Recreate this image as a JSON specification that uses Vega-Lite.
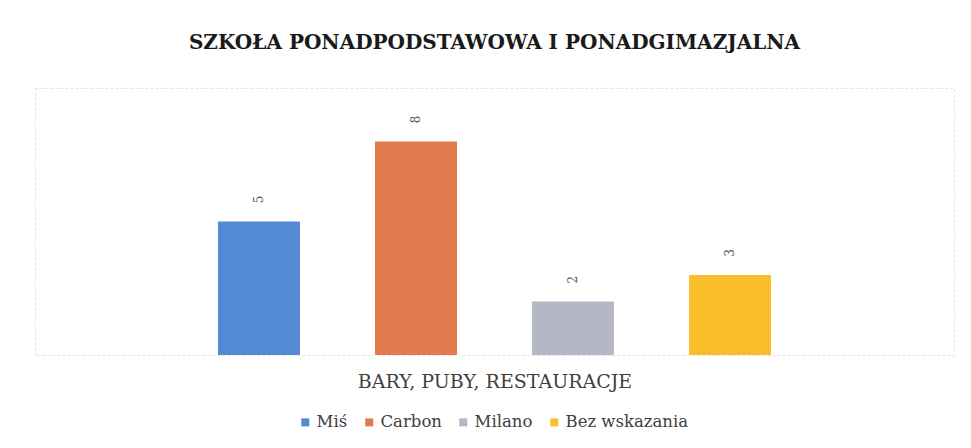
{
  "$schema": "https://vega.github.io/schema/vega-lite/v6.json",
  "width": 919,
  "height": 267,
  "autosize": {"type": "none"},
  "padding": {"left": 35, "top": 88, "right": 17, "bottom": 93},
  "background": "white",
  "title": {
    "text": "SZKOŁA PONADPODSTAWOWA I PONADGIMAZJALNA",
    "font": "DejaVu Serif",
    "fontSize": 20,
    "fontWeight": "bold",
    "color": "#1a1a1a",
    "anchor": "middle",
    "baseline": "alphabetic",
    "offset": 19
  },
  "data": {
    "values": [
      {"seria": "Miś", "kategoria": "BARY, PUBY, RESTAURACJE", "wartosc": 5},
      {"seria": "Carbon", "kategoria": "BARY, PUBY, RESTAURACJE", "wartosc": 8},
      {"seria": "Milano", "kategoria": "BARY, PUBY, RESTAURACJE", "wartosc": 2},
      {"seria": "Bez wskazania", "kategoria": "BARY, PUBY, RESTAURACJE", "wartosc": 3}
    ]
  },
  "encoding": {
    "x": {
      "field": "seria",
      "type": "nominal",
      "sort": ["Miś", "Carbon", "Milano", "Bez wskazania"],
      "scale": {"range": [145.5, 773.5], "paddingInner": 0.478, "paddingOuter": 0.239},
      "axis": {
        "title": "BARY, PUBY, RESTAURACJE",
        "labels": false,
        "ticks": false,
        "domain": false,
        "titleFont": "DejaVu Serif",
        "titleFontSize": 19,
        "titleFontWeight": "normal",
        "titleColor": "#404040",
        "titlePadding": 17,
        "titleX": 459.5,
        "titleAnchor": "middle"
      }
    },
    "y": {
      "field": "wartosc",
      "type": "quantitative",
      "scale": {"domain": [0, 10]},
      "axis": null
    }
  },
  "layer": [
    {
      "mark": {"type": "bar"},
      "encoding": {
        "color": {
          "field": "seria",
          "type": "nominal",
          "sort": ["Miś", "Carbon", "Milano", "Bez wskazania"],
          "scale": {
            "domain": ["Miś", "Carbon", "Milano", "Bez wskazania"],
            "range": ["#5489d3", "#e07a4c", "#b5b6c6", "#fbbe2b"]
          },
          "legend": {
            "title": null,
            "orient": "none",
            "direction": "horizontal",
            "legendX": 262,
            "legendY": 326,
            "symbolType": "square",
            "symbolSize": 64,
            "symbolStrokeWidth": 0,
            "labelFont": "DejaVu Serif",
            "labelFontSize": 16.5,
            "labelColor": "#404040",
            "labelOffset": 3,
            "columnPadding": 13
          }
        }
      }
    },
    {
      "mark": {
        "type": "text",
        "angle": 270,
        "yOffset": -22,
        "baseline": "middle",
        "align": "center",
        "font": "DejaVu Serif",
        "fontSize": 12,
        "color": "#595959"
      },
      "encoding": {
        "text": {"field": "wartosc", "type": "quantitative"}
      }
    }
  ],
  "config": {
    "view": {"stroke": "#e3e3e3", "strokeDash": [3, 2]}
  }
}
